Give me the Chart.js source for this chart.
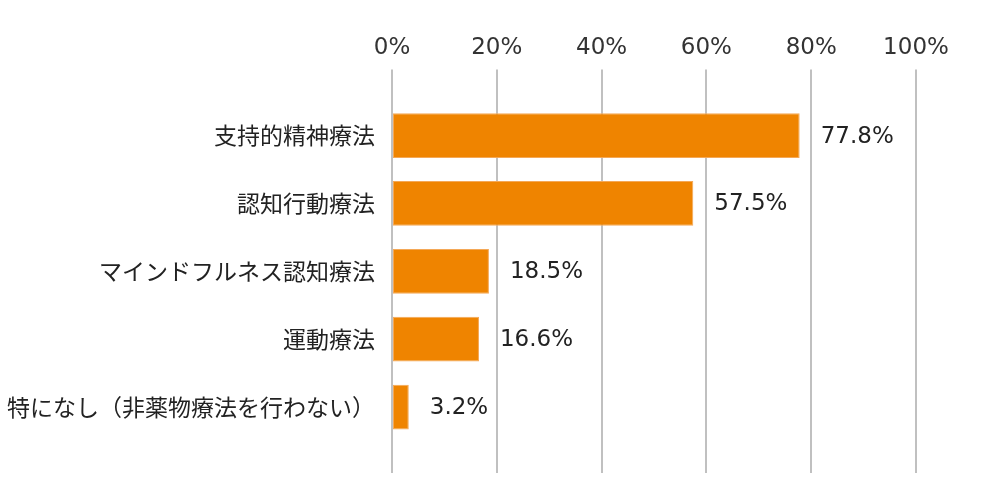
<!DOCTYPE html>
<html lang="ja">
<head>
<meta charset="utf-8">
<title>非薬物療法</title>
<script src="https://cdn.jsdelivr.net/npm/chart.js@4"></script>
<style>
  html, body { margin: 0; padding: 0; background: #fff; }
  #wrap { width: 1002px; height: 486px; }
</style>
</head>
<body>
<div id="wrap"><canvas id="therapyChart"></canvas></div>
<script>
const categories = [
  "支持的精神療法",
  "認知行動療法",
  "マインドフルネス認知療法",
  "運動療法",
  "特になし（非薬物療法を行わない）"
];
const percents = [77.8, 57.5, 18.5, 16.6, 3.2];
const tickValues = [0, 20, 40, 60, 80, 100];

const numFont = "'DejaVu Sans', sans-serif";
const jpFont = "'Noto Sans CJK JP', sans-serif";

// value text to the right of every bar
const valueLabels = {
  id: "valueLabels",
  afterDatasetsDraw(chart) {
    const ctx = chart.ctx;
    const meta = chart.getDatasetMeta(0);
    ctx.save();
    ctx.font = "23px " + numFont;
    ctx.fillStyle = "#222";
    ctx.textAlign = "left";
    ctx.textBaseline = "middle";
    meta.data.forEach((bar, i) => {
      ctx.fillText(percents[i].toFixed(1) + "%", bar.x + 21, bar.y + 1);
    });
    ctx.restore();
  }
};

const ctx = document.getElementById("therapyChart").getContext("2d");
new Chart(ctx, {
  type: "bar",
  data: {
    labels: categories,
    datasets: [{
      data: percents,
      backgroundColor: "#EF8400",
      borderColor: "#F4A857",
      borderWidth: 1,
      borderSkipped: false,
      categoryPercentage: 1,
      barPercentage: 0.66
    }]
  },
  options: {
    indexAxis: "y",
    responsive: true,
    maintainAspectRatio: false,
    animation: false,
    layout: { padding: { top: 26, right: 86, bottom: 13, left: 0 } },
    plugins: {
      legend: { display: false },
      tooltip: { enabled: false }
    },
    scales: {
      x: {
        position: "top",
        min: 0,
        max: 100,
        afterBuildTicks(scale) {
          scale.ticks = tickValues.map(v => ({ value: v }));
        },
        ticks: {
          padding: 8,
          color: "#333",
          font: { family: numFont, size: 23 },
          callback: v => v + "%"
        },
        grid: { color: "#c0c0c0", lineWidth: 2, tickLength: 32 },
        border: { display: false }
      },
      x2: {
        axis: "x",
        type: "linear",
        position: "bottom",
        min: 0,
        max: 100,
        afterBuildTicks(scale) {
          scale.ticks = tickValues.map(v => ({ value: v }));
        },
        ticks: { display: false },
        grid: { color: "#c0c0c0", lineWidth: 2, tickLength: 32, drawOnChartArea: false },
        border: { display: false }
      },
      y: {
        afterFit(scale) { scale.width = 392; },
        ticks: {
          padding: 17,
          color: "#222",
          font: { family: jpFont, size: 23 }
        },
        grid: { display: false, drawTicks: false },
        border: { display: false }
      }
    }
  },
  plugins: [valueLabels]
});
</script>
</body>
</html>
